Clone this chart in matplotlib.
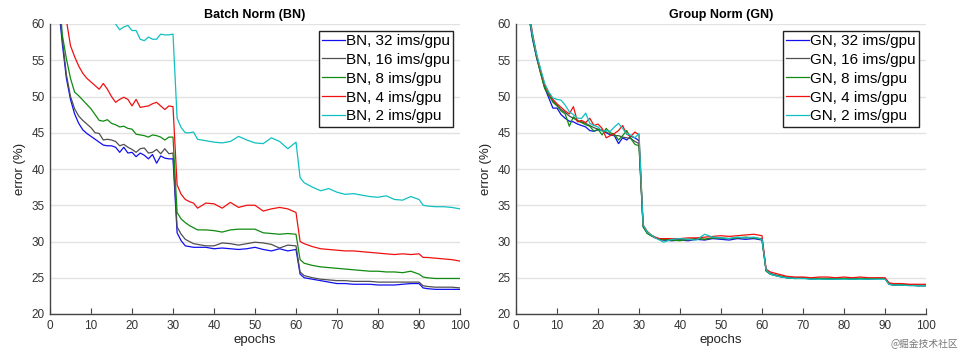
import matplotlib
matplotlib.use("Agg")
import matplotlib.pyplot as plt

plt.rcParams['font.family'] = ['Liberation Sans', 'DejaVu Sans']

# shared epoch grid for every curve
epochs = [1, 2, 3, 4, 5, 6, 7, 8, 9, 10, 11, 12, 13, 14, 15, 16, 17, 18, 19, 20,
          21, 22, 23, 24, 25, 26, 27, 28, 29, 30, 31, 32, 33, 34, 35, 36, 38, 40,
          42, 44, 46, 48, 50, 52, 54, 56, 58, 60, 61, 62, 64, 66, 68, 70, 72, 74,
          76, 78, 80, 82, 84, 86, 88, 90, 91, 92, 94, 96, 98, 100]

# Batch Norm
bn_32 = [72, 63, 57.3, 52.5, 49.6, 47.6, 46.3, 45.4, 44.9, 44.5, 44.1, 43.7, 43.3, 43.2, 43.2, 43.0, 42.3, 43.0, 42.2, 42.3,
         41.7, 42.2, 41.9, 41.4, 42.0, 40.8, 41.8, 41.5, 41.4, 41.4, 31.2, 30.1, 29.4, 29.3, 29.2, 29.2, 29.2, 29.0,
         29.1, 29.0, 28.9, 29.0, 29.2, 28.9, 28.7, 29.0, 28.7, 28.9, 25.5, 25.0, 24.8, 24.6, 24.4, 24.2, 24.2, 24.1,
         24.1, 24.1, 24.0, 24.0, 24.0, 24.1, 24.2, 24.2, 23.6, 23.5, 23.4, 23.4, 23.4, 23.4]
bn_16 = [72, 64, 58, 53, 50.0, 48.3, 47.3, 46.7, 46.2, 45.7, 45.0, 44.9, 44.0, 44.1, 44.0, 43.8, 43.2, 43.4, 43.0, 42.7,
         42.3, 42.8, 42.9, 42.2, 42.3, 42.7, 42.1, 42.8, 42.1, 42.2, 32.0, 31.0, 30.3, 30.0, 29.7, 29.6, 29.4, 29.4,
         29.8, 29.7, 29.5, 29.7, 29.9, 29.8, 29.6, 29.1, 29.5, 29.4, 25.8, 25.3, 25.0, 24.8, 24.7, 24.6, 24.6, 24.5,
         24.5, 24.5, 24.4, 24.4, 24.4, 24.4, 24.4, 24.4, 23.9, 23.8, 23.7, 23.7, 23.7, 23.6]
bn_8 = [75, 66, 58.5, 55.2, 52.5, 50.6, 50.1, 49.5, 48.9, 48.3, 47.5, 46.7, 46.6, 46.8, 46.3, 46.1, 45.8, 45.9, 45.6, 45.5,
        44.8, 44.7, 44.6, 44.4, 44.7, 44.6, 44.4, 44.0, 44.4, 44.4, 34.0, 33.1, 32.6, 32.2, 31.9, 31.6, 31.6, 31.5,
        31.3, 31.6, 31.7, 31.7, 31.7, 31.2, 31.1, 31.0, 31.1, 31.0, 27.5, 27.0, 26.7, 26.5, 26.4, 26.3, 26.2, 26.1,
        26.0, 25.9, 25.9, 25.8, 25.8, 25.7, 25.9, 25.5, 25.1, 25.0, 24.9, 24.9, 24.9, 24.9]
bn_4 = [80, 70, 64, 60.5, 57.0, 55.5, 54.2, 53.2, 52.5, 52.0, 51.5, 51.0, 51.8, 51.0, 50.0, 49.2, 49.6, 49.9, 49.6, 48.7,
        49.6, 48.5, 48.6, 48.7, 49.0, 49.2, 48.7, 48.2, 48.7, 48.6, 37.8, 36.5, 35.8, 35.5, 35.3, 34.6, 35.3, 35.2,
        34.6, 35.4, 34.7, 35.0, 35.0, 34.2, 34.5, 34.7, 34.5, 34.0, 30.0, 29.7, 29.3, 29.0, 28.9, 28.8, 28.7, 28.7,
        28.6, 28.5, 28.4, 28.3, 28.2, 28.3, 28.2, 28.3, 27.8, 27.8, 27.7, 27.6, 27.5, 27.3]
bn_2 = [85, 78, 74, 71, 69, 67, 66, 65, 64, 63.5, 62.8, 62.2, 61.6, 61.0, 60.6, 60.0, 59.2, 59.6, 59.8, 59.1,
        59.1, 57.9, 57.7, 58.2, 57.9, 57.9, 58.6, 58.5, 58.5, 58.6, 47.0, 45.7, 45.0, 45.0, 45.1, 44.1, 43.9, 43.7,
        43.6, 43.8, 44.5, 44.0, 43.6, 43.5, 44.3, 43.8, 42.8, 43.7, 38.8, 38.1, 37.5, 37.0, 37.3, 36.8, 36.5, 36.6,
        36.4, 36.2, 36.1, 36.3, 35.8, 35.7, 36.2, 35.8, 35.0, 34.9, 34.8, 34.8, 34.7, 34.5]

# Group Norm
gn_32 = [75, 68, 61.5, 58.0, 55.4, 53.3, 51.2, 49.8, 48.4, 48.4, 47.5, 47.0, 46.6, 46.5, 46.2, 46.0, 45.8, 45.3, 45.2, 45.4,
         45.4, 45.0, 44.7, 44.6, 43.5, 44.3, 44.0, 44.5, 44.3, 43.9, 32.1, 31.2, 30.8, 30.5, 30.3, 30.2, 30.1, 30.2,
         30.1, 30.3, 30.2, 30.4, 30.3, 30.2, 30.4, 30.3, 30.4, 30.2, 26.0, 25.5, 25.2, 25.0, 24.9, 25.0, 24.8, 24.9,
         24.8, 24.8, 24.9, 24.8, 24.9, 24.8, 24.9, 24.9, 24.1, 24.0, 24.0, 24.0, 23.9, 23.9]
gn_16 = [75, 68, 62, 58.4, 55.6, 53.4, 51.3, 50.1, 49.4, 48.8, 48.2, 47.8, 47.3, 47.0, 46.7, 46.5, 46.3, 46.0, 45.7, 45.5,
         45.3, 45.1, 44.8, 44.6, 44.6, 44.4, 44.3, 44.2, 43.8, 43.5, 32.2, 31.2, 30.8, 30.5, 30.3, 30.2, 30.2, 30.3,
         30.2, 30.4, 30.3, 30.5, 30.4, 30.4, 30.5, 30.5, 30.5, 30.4, 26.0, 25.6, 25.3, 25.1, 25.0, 25.0, 24.9, 24.9,
         24.9, 24.9, 24.9, 24.9, 24.9, 24.8, 24.9, 24.9, 24.2, 24.1, 24.1, 24.0, 24.0, 24.0]
gn_8 = [75, 68, 62, 58.2, 55.5, 53.2, 51.1, 50.3, 49.2, 48.7, 48.0, 47.6, 45.9, 47.2, 46.6, 46.4, 46.1, 45.9, 45.2, 45.5,
        44.7, 45.6, 45.0, 44.8, 44.0, 44.6, 45.3, 44.2, 43.4, 43.2, 32.0, 31.1, 30.8, 30.5, 30.3, 30.3, 30.2, 30.1,
        30.3, 30.4, 30.3, 30.5, 30.5, 30.4, 30.5, 30.6, 30.5, 30.3, 25.9, 25.5, 25.2, 25.0, 24.9, 24.9, 24.9, 24.9,
        24.8, 24.9, 24.9, 24.8, 24.9, 24.9, 24.9, 24.9, 24.1, 24.0, 24.0, 24.0, 23.9, 23.9]
gn_4 = [76, 69, 62.5, 58.8, 55.8, 53.6, 51.6, 50.5, 49.6, 49.0, 48.5, 48.0, 47.6, 48.6, 46.5, 46.7, 46.4, 47.0, 46.0, 46.2,
        45.6, 44.3, 44.6, 44.9, 45.3, 46.0, 44.8, 44.5, 45.1, 44.7, 32.3, 31.4, 30.9, 30.6, 30.4, 30.4, 30.4, 30.4,
        30.5, 30.5, 30.6, 30.7, 30.8, 30.7, 30.8, 30.9, 31.0, 30.8, 26.2, 25.8, 25.5, 25.2, 25.1, 25.1, 25.0, 25.1,
        25.1, 25.0, 25.1, 25.0, 25.1, 25.0, 25.0, 25.0, 24.3, 24.2, 24.2, 24.1, 24.1, 24.1]
gn_2 = [75, 68, 62, 58.6, 55.9, 53.8, 51.8, 50.6, 49.8, 49.6, 49.5, 48.8, 47.9, 47.5, 47.0, 47.0, 47.7, 46.3, 46.0, 45.8,
        45.2, 45.3, 45.2, 45.8, 46.3, 45.6, 44.8, 44.7, 44.3, 44.9, 32.3, 31.3, 30.9, 30.5, 30.2, 29.9, 30.3, 30.4,
        30.3, 30.2, 31.0, 30.6, 30.5, 30.4, 30.6, 30.5, 30.6, 30.3, 26.1, 25.5, 25.2, 25.0, 24.9, 24.9, 24.8, 24.8,
        24.8, 24.8, 24.8, 24.8, 24.8, 24.8, 24.8, 24.8, 24.1, 24.0, 24.0, 23.9, 23.9, 23.9]

colors = ['#1010ee', '#505050', '#108a10', '#f01010', '#10c0c0']
bn_series = [bn_32, bn_16, bn_8, bn_4, bn_2]
gn_series = [gn_32, gn_16, gn_8, gn_4, gn_2]
sizes = [32, 16, 8, 4, 2]

fig = plt.figure(figsize=(9.61, 3.52), dpi=100)
ax1 = fig.add_axes([50 / 961, 1 - 314 / 352, 410 / 961, 290 / 352])
ax2 = fig.add_axes([516 / 961, 1 - 314 / 352, 410 / 961, 290 / 352])


def style_axis(ax, tag, series, title):
    for vals, c, s in zip(series, colors, sizes):
        ax.plot(epochs, vals, color=c, lw=0.9, label=f"{tag}, {s} ims/gpu")
    ax.set_xlim(0, 100)
    ax.set_ylim(20, 60)
    ax.set_xticks(range(0, 101, 10))
    ax.set_yticks(range(20, 61, 5))
    ax.grid(axis='y', color='#e2e2e2', lw=1)
    ax.set_axisbelow(True)
    for sp in ['top', 'right']:
        ax.spines[sp].set_visible(False)
    for sp in ['left', 'bottom']:
        ax.spines[sp].set_color('#444444')
        ax.spines[sp].set_linewidth(1)
    ax.tick_params(axis='x', direction='in', length=4, color='#444444', labelsize=8.5,
                   labelcolor='#333333', pad=4)
    ax.tick_params(axis='y', length=0, labelsize=8.5, labelcolor='#333333', pad=4)
    ax.set_xlabel('epochs', fontsize=9.5, color='#222222', labelpad=2)
    ax.set_ylabel('error (%)', fontsize=9.5, color='#222222', labelpad=4)
    ax.set_title(title, fontsize=9, fontweight='bold', pad=4)
    leg = ax.legend(loc='upper right', fontsize=11, frameon=True, fancybox=False,
                    edgecolor='#222222', framealpha=1, borderaxespad=0.45, borderpad=0.2,
                    handlelength=1.5, handletextpad=0.1, labelspacing=0.32)
    leg.get_frame().set_linewidth(1)


style_axis(ax1, 'BN', bn_series, 'Batch Norm (BN)')
style_axis(ax2, 'GN', gn_series, 'Group Norm (GN)')

fig.text(0.997, 0.012, '@掘金技术社区', ha='right', va='bottom', fontsize=7,
         color='#777777', family=['Noto Sans CJK SC', 'DejaVu Sans'])

fig.savefig('out.png', dpi=100)
